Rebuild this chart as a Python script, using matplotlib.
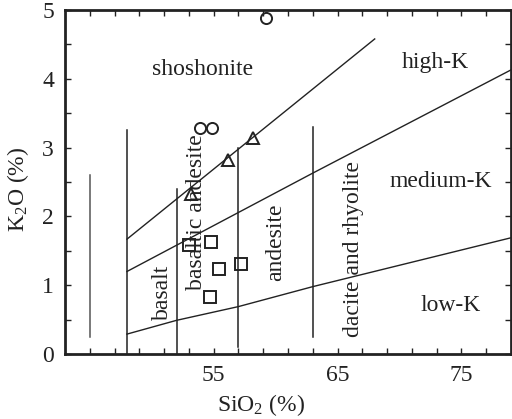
import matplotlib

matplotlib.use("Agg")
import matplotlib.pyplot as plt
from matplotlib.ticker import MultipleLocator

plt.rcParams["font.family"] = ["Liberation Serif", "DejaVu Serif"]
plt.rcParams["mathtext.fontset"] = "custom"
plt.rcParams["mathtext.rm"] = "Liberation Serif"
plt.rcParams["mathtext.it"] = "Liberation Serif:italic"

# sample points (SiO2, K2O)
circle_sio2 = [53.9, 54.9, 59.2]
circle_k2o = [3.29, 3.29, 4.89]
tri_sio2 = [53.2, 56.15, 58.15]
tri_k2o = [2.33, 2.82, 3.14]
sq_sio2 = [53.0, 54.8, 55.4, 57.2, 54.7]
sq_k2o = [1.58, 1.63, 1.23, 1.31, 0.83]

# series boundaries
low_med_sio2 = [48, 52, 57, 63, 79]
low_med_k2o = [0.29, 0.49, 0.69, 0.98, 1.69]
med_high_sio2 = [48, 63, 79]
med_high_k2o = [1.2, 2.63, 4.13]
high_sho_sio2 = [48, 68]
high_sho_k2o = [1.67, 4.58]

# rock type dividers: SiO2, bottom, top
div_sio2 = [45, 48, 52, 57, 63]
div_bottom = [0.25, 0.0, 0.0, 0.1, 0.25]
div_top = [2.6, 3.25, 2.4, 3.0, 3.3]

# field labels
field_names = ["shoshonite", "high-K", "medium-K", "low-K"]
field_x = [54.1, 72.9, 73.3, 74.1]
field_y = [4.13, 4.24, 2.51, 0.71]
rock_names = ["basalt", "basaltic andesite", "andesite", "dacite and rhyolite"]
rock_x = [50.9, 53.6, 60.0, 66.3]
rock_y = [0.9, 2.07, 1.62, 1.53]

fig = plt.figure(figsize=(5.12, 4.19), dpi=100)
ax = fig.add_axes([0.127, 0.155, 0.871, 0.821])

lc = "#222222"
ax.plot(low_med_sio2, low_med_k2o, color=lc, lw=1.0)
ax.plot(med_high_sio2, med_high_k2o, color=lc, lw=1.0)
ax.plot(high_sho_sio2, high_sho_k2o, color=lc, lw=1.0)
for i, (x, b, t) in enumerate(zip(div_sio2, div_bottom, div_top)):
    ax.plot([x, x], [b, t], color="#555555" if i == 0 else lc, lw=1.1)

mk = dict(linestyle="none", markerfacecolor="none", markeredgecolor="#222222",
          markeredgewidth=1.4, markersize=8)
ax.plot(circle_sio2, circle_k2o, marker="o", **mk)
ax.plot(tri_sio2, tri_k2o, marker="^", **mk)
ax.plot(sq_sio2, sq_k2o, marker="s", **mk)

for name, x, y in zip(field_names, field_x, field_y):
    ax.text(x, y, name, ha="center", va="center", fontsize=17, color="#222222")
for name, x, y in zip(rock_names, rock_x, rock_y):
    ax.text(x, y, name, ha="center", va="center", fontsize=17, rotation=90,
            color="#222222")

ax.set_xlim(43, 79)
ax.set_ylim(0, 5)
ax.set_xticks([55, 65, 75])
ax.set_xticks([x for x in range(45, 79, 2)], minor=True)
ax.yaxis.set_major_locator(MultipleLocator(1))
ax.yaxis.set_minor_locator(MultipleLocator(0.5))
ax.tick_params(which="both", direction="in", top=True, right=True,
               length=4, width=1, labelsize=17, colors="#222222", pad=8)
for s in ax.spines.values():
    s.set_linewidth(2)
    s.set_color("#222222")

ax.set_xlabel(r"SiO$_2$ (%)", fontsize=17, color="#222222")
ax.set_ylabel(r"K$_2$O (%)", fontsize=17, color="#222222")
ax.xaxis.set_label_coords(0.44, -0.11)
ax.yaxis.set_label_coords(-0.076, 0.478)

fig.savefig("out.png", dpi=100)
